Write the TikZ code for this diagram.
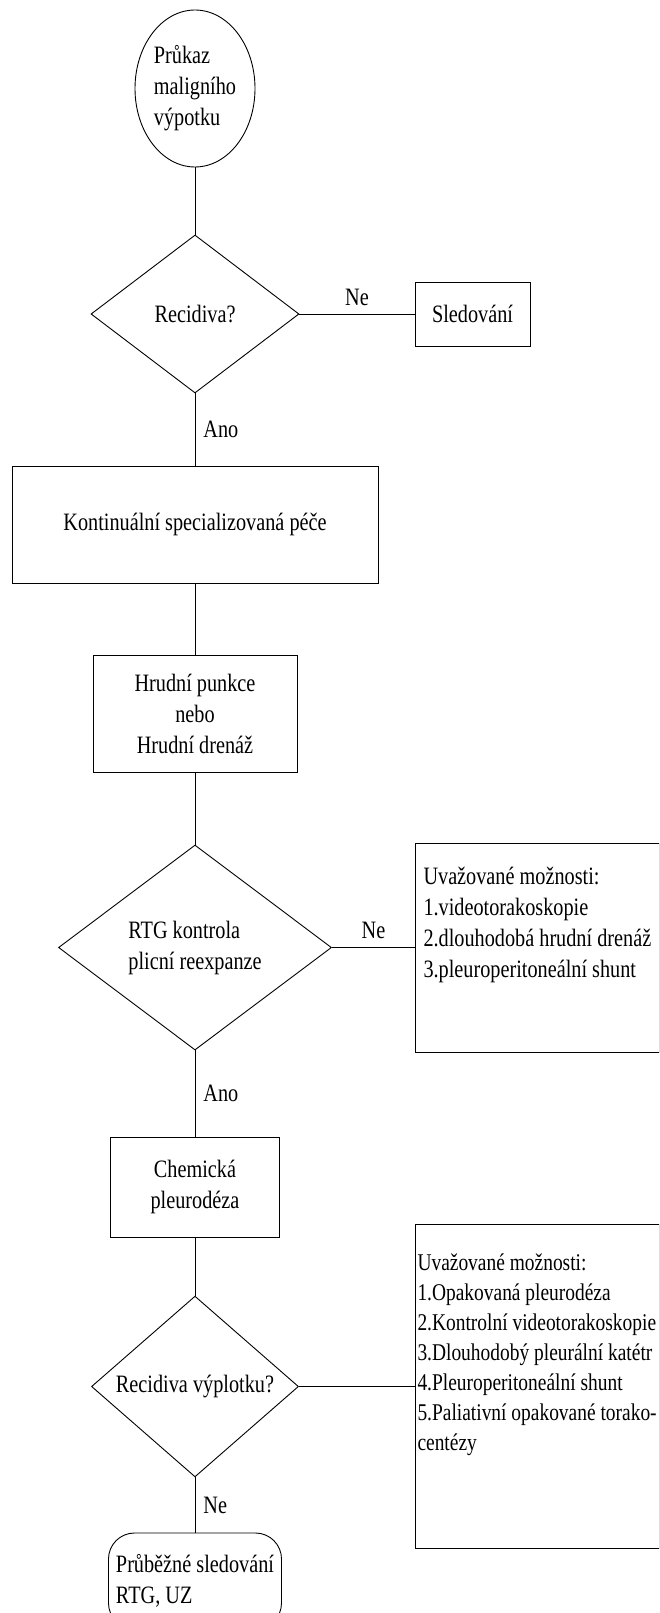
\documentclass[tikz,border=0pt]{standalone}
\usepackage{fontspec}
\setmainfont{Liberation Serif}[FakeStretch=0.81]
\usetikzlibrary{shapes.geometric, positioning}
\newcommand{\bodysize}{\fontsize{25pt}{31pt}\selectfont}
\newcommand{\listsize}{\fontsize{24pt}{30pt}\selectfont}
\tikzset{
  -,
  every node/.style={font=\bodysize},
  startstop/.style={ellipse, draw, inner sep=0pt, align=left, minimum width=120pt, minimum height=157pt},
  decision/.style={diamond, draw, inner sep=0pt, align=center},
  process/.style={rectangle, draw, align=center},
  optbox/.style={rectangle, draw, minimum width=244pt},
  optlist/.style={anchor=north west, align=left, inner xsep=8pt, inner ysep=24pt},
  terminal/.style={rectangle, rounded corners=26pt, draw, align=left, inner xsep=7.5pt, minimum height=96pt},
  answer/.style={inner sep=8pt},
}

\begin{document}
\begin{tikzpicture}[line width=0.9pt]
  \clip (0,0) rectangle (659pt,-1613pt);

  % nodes
  \node[startstop] (start) at (195pt,-88.5pt) {Průkaz\\maligního\\výpotku};
  \node[decision, node distance=225.5pt, below of=start, minimum width=208pt, minimum height=158pt] (recid) {Recidiva?};
  \node[process, node distance=277.5pt, right of=recid, minimum width=115pt, minimum height=64pt] (follow) {Sledování};
  \node[process, node distance=210.5pt, below of=recid, minimum width=366pt, minimum height=117pt] (care) {Kontinuální specializovaná péče};
  \node[process, node distance=189pt, below of=care, minimum width=204pt, minimum height=117pt] (drain) {Hrudní punkce\\nebo\\Hrudní drenáž};
  \node[decision, node distance=234pt, below of=drain, minimum width=273pt, minimum height=205pt, align=left] (xray) {RTG kontrola\\plicní reexpanze};
  \node[optbox, node distance=342.5pt, right of=xray, minimum height=209pt,
        label={[optlist]north west:{Uvažované možnosti:\\1.videotorakoskopie\\2.dlouhodobá hrudní drenáž\\3.pleuroperitoneální shunt}}] (opt1) {};
  \node[process, node distance=239.5pt, below of=xray, minimum width=169pt, minimum height=100pt] (pleuro) {Chemická\\pleurodéza};
  \node[decision, node distance=199.5pt, below of=pleuro, minimum width=207pt, minimum height=157pt] (relapse) {Recidiva výplotku?};
  \node[optbox, node distance=342.5pt, right of=relapse, minimum height=324pt,
        label={[optlist, inner xsep=2pt, inner ysep=29pt, font=\listsize]north west:{Uvažované možnosti:\\1.Opakovaná pleurodéza\\2.Kontrolní videotorakoskopie\\3.Dlouhodobý pleurální katétr\\4.Pleuroperitoneální shunt\\5.Paliativní opakované torako-\\centézy}}] (opt2) {};
  \node[terminal, node distance=194.5pt, below of=relapse] (watch) {Průběžné sledování\\RTG, UZ};

  % connectors
  \draw (start) -- (recid);
  \draw (recid) -- node[answer, above] {Ne} (follow);
  \draw (recid) -- node[answer, right] {Ano} (care);
  \draw (care) -- (drain);
  \draw (drain) -- (xray);
  \draw (xray) -- node[answer, above] {Ne} (opt1);
  \draw (xray) -- node[answer, right] {Ano} (pleuro);
  \draw (pleuro) -- (relapse);
  \draw (relapse) -- (opt2);
  \draw (relapse) -- node[answer, right] {Ne} (watch);

\end{tikzpicture}
\end{document}
